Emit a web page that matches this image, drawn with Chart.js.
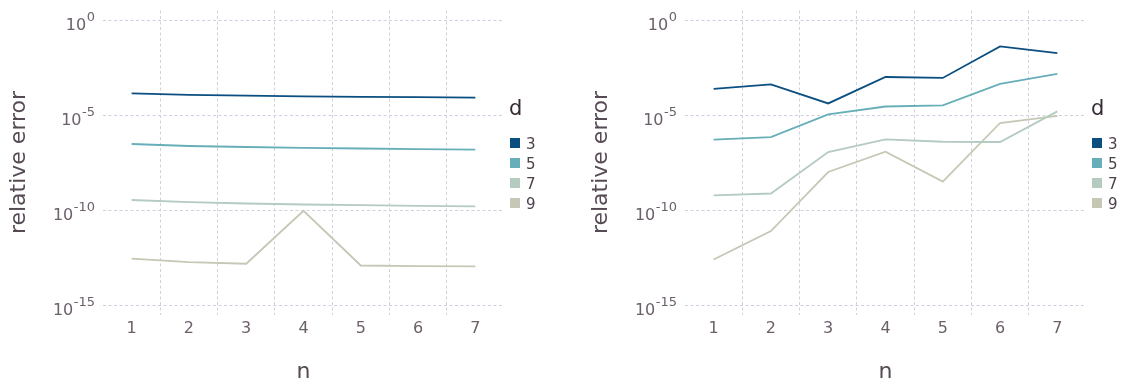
<!DOCTYPE html>
<html>
<head>
<meta charset="utf-8">
<script src="https://cdn.jsdelivr.net/npm/chart.js@4.4.0/dist/chart.umd.min.js"></script>
<style>
html, body { margin: 0; padding: 0; background: #fff; width: 1123px; height: 385px; overflow: hidden; }
canvas { position: absolute; top: 0; }
#left { left: 0; }
#right { left: 582px; }
</style>
</head>
<body>
<canvas id="left" width="581" height="385"></canvas>
<canvas id="right" width="581" height="385"></canvas>
<script>
var nValues = [1, 2, 3, 4, 5, 6, 7];
var dLabels = ['3', '5', '7', '9'];
var lineColors = ['#0B4F81', '#67AFB8', '#B4CBC0', '#C6C7B5'];
var yTicks = [1e-15, 1e-10, 1e-5, 1];

// left panel
var leftD3 = [1.37e-4, 1.14e-4, 1.04e-4, 9.6e-5, 9.1e-5, 8.65e-5, 8.15e-5];
var leftD5 = [2.98e-7, 2.33e-7, 2.07e-7, 1.85e-7, 1.73e-7, 1.60e-7, 1.49e-7];
var leftD7 = [3.36e-10, 2.58e-10, 2.20e-10, 1.95e-10, 1.79e-10, 1.66e-10, 1.55e-10];
var leftD9 = [2.75e-13, 1.82e-13, 1.48e-13, 9.1e-11, 1.20e-13, 1.12e-13, 1.07e-13];

// right panel
var rightD3 = [2.4e-4, 4.07e-4, 4.07e-5, 1.0e-3, 8.9e-4, 4.07e-2, 1.82e-2];
var rightD5 = [5.0e-7, 6.9e-7, 1.07e-5, 2.8e-5, 3.2e-5, 4.3e-4, 1.45e-3];
var rightD7 = [5.9e-10, 7.4e-10, 1.12e-7, 5.2e-7, 3.9e-7, 3.8e-7, 1.55e-5];
var rightD9 = [2.5e-13, 7.8e-12, 1.0e-8, 1.17e-7, 3.1e-9, 3.8e-6, 9.1e-6];

var FONT = '"DejaVu Sans", sans-serif';
var GRID = '#D0D0E0';

/* y tick labels as 10 with a raised exponent */
var powerLabels = {
  id: 'powerLabels',
  afterDraw: function(chart) {
    var ctx = chart.ctx, y = chart.scales.y, left = chart.chartArea.left;
    ctx.save();
    ctx.fillStyle = '#6C606B';
    ctx.textAlign = 'right';
    ctx.textBaseline = 'alphabetic';
    y.ticks.forEach(function(t) {
      var py = y.getPixelForValue(t.value);
      var exp = String(Math.round(Math.log10(t.value)));
      ctx.font = '13px ' + FONT;
      var w = ctx.measureText(exp).width;
      ctx.fillText(exp, left - 8, py + 1);
      ctx.font = '16px ' + FONT;
      ctx.fillText('10', left - 8 - w - 0.5, py + 10);
    });
    ctx.restore();
  }
};

/* key on the right side: title d and coloured squares */
var keyLegend = {
  id: 'keyLegend',
  afterDraw: function(chart) {
    var ctx = chart.ctx, x = chart.chartArea.right + 6, top = chart.chartArea.top;
    ctx.save();
    ctx.textAlign = 'left';
    ctx.textBaseline = 'alphabetic';
    ctx.fillStyle = '#362A35';
    ctx.font = '21px ' + FONT;
    ctx.fillText('d', x - 1, top + 104.5);
    ctx.font = '15px ' + FONT;
    chart.data.datasets.forEach(function(ds, i) {
      var by = top + 127.5 + i * 20;
      ctx.fillStyle = ds.borderColor;
      ctx.fillRect(x, by, 10, 10);
      ctx.fillStyle = '#4C404B';
      ctx.fillText(ds.label, x + 16, by + 10.5);
    });
    ctx.restore();
  }
};

function makeChart(id, series) {
  var xTicks = [0.5];
  nValues.forEach(function(n) { xTicks.push(n, n + 0.5); });

  return new Chart(document.getElementById(id).getContext('2d'), {
    type: 'line',
    data: {
      datasets: series.map(function(vals, i) {
        return {
          label: dLabels[i],
          data: nValues.map(function(n, j) { return { x: n, y: vals[j] }; }),
          borderColor: lineColors[i],
          backgroundColor: lineColors[i],
          borderWidth: 1.8,
          pointRadius: 0,
          fill: false,
          tension: 0
        };
      })
    },
    options: {
      responsive: false,
      animation: false,
      layout: { padding: { top: 10.5, right: 77, bottom: 0, left: 0 } },
      plugins: { legend: { display: false }, tooltip: { enabled: false } },
      scales: {
        x: {
          type: 'linear',
          min: 0.5,
          max: 7.5,
          afterBuildTicks: function(s) { s.ticks = xTicks.map(function(v) { return { value: v }; }); },
          afterFit: function(s) { s.height = 70.5; },
          grid: {
            drawTicks: false,
            color: function(c) {
              var v = c.tick ? c.tick.value : 0;
              return (!Number.isInteger(v) && v > 1 && v < 7) ? GRID : 'rgba(0,0,0,0)';
            }
          },
          border: { display: false, dash: [3, 2.5] },
          ticks: {
            autoSkip: false,
            maxRotation: 0,
            padding: 5,
            color: '#6C606B',
            font: { family: FONT, size: 16 },
            callback: function(v) { return Number.isInteger(v) ? String(v) : ''; }
          },
          title: { display: true, text: 'n', color: '#564A55', font: { family: FONT, size: 22 }, padding: 0 }
        },
        y: {
          type: 'logarithmic',
          min: Math.pow(10, -15.5),
          max: Math.pow(10, 0.5),
          afterBuildTicks: function(s) { s.ticks = yTicks.map(function(v) { return { value: v }; }); },
          afterFit: function(s) { s.width = 103; },
          grid: { drawTicks: false, color: GRID },
          border: { display: false, dash: [3, 2.5] },
          ticks: { display: false },
          title: { display: true, text: 'relative error', color: '#564A55', font: { family: FONT, size: 22 }, padding: { top: 6, bottom: 0 } }
        }
      }
    },
    plugins: [powerLabels, keyLegend]
  });
}

document.addEventListener('DOMContentLoaded', function() {
  makeChart('left', [leftD3, leftD5, leftD7, leftD9]);
  makeChart('right', [rightD3, rightD5, rightD7, rightD9]);
});
</script>
</body>
</html>
